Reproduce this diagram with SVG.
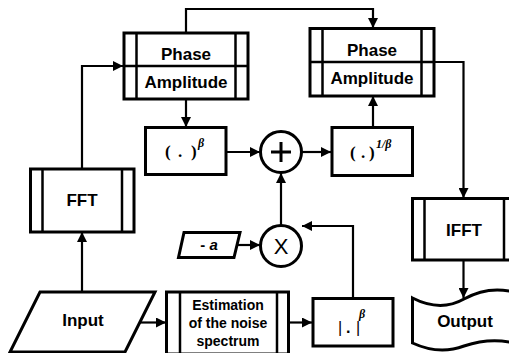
<svg xmlns="http://www.w3.org/2000/svg" width="509" height="353" viewBox="0 0 509 353">
<defs>
<marker id="ah" viewBox="0 0 10 10" refX="10" refY="5" markerWidth="10" markerHeight="10" markerUnits="userSpaceOnUse" orient="auto">
<path d="M0,0 L10,5 L0,10 Z" fill="#000"/>
</marker>
</defs>
<style>
.box{fill:#fff;stroke:#000;stroke-width:3}
.in{fill:none;stroke:#000;stroke-width:2.5}
.c{fill:none;stroke:#000;stroke-width:2.2}
.t{font-family:"Liberation Sans",Arial,sans-serif;font-weight:bold;font-size:17px;text-anchor:middle;fill:#000}
.s{font-family:"Liberation Sans",Arial,sans-serif;font-weight:bold;font-size:14px;text-anchor:middle;fill:#000}
.m{font-family:"Liberation Serif","Times New Roman",serif;font-weight:bold;font-size:17px;fill:#000}
.sup{font-family:"Liberation Serif","Times New Roman",serif;font-weight:bold;font-style:italic;font-size:12px;fill:#000}
</style>
<rect width="509" height="353" fill="#fff"/>
<g id="connectors">
<path class="c" d="M186,33 V9 H373 V28" marker-end="url(#ah)"/>
<path class="c" d="M82,169 V66 H123" marker-end="url(#ah)"/>
<path class="c" d="M186,99 V127" marker-end="url(#ah)"/>
<path class="c" d="M226,152 H260" marker-end="url(#ah)"/>
<path class="c" d="M302,152 H331" marker-end="url(#ah)"/>
<path class="c" d="M373,127 V96" marker-end="url(#ah)"/>
<path class="c" d="M434,62 H463.5 V198" marker-end="url(#ah)"/>
<path class="c" d="M463.5,260 V298" marker-end="url(#ah)"/>
<path class="c" d="M82,292 V232" marker-end="url(#ah)"/>
<path class="c" d="M140,322.5 H166" marker-end="url(#ah)"/>
<path class="c" d="M288,322.5 H312" marker-end="url(#ah)"/>
<path class="c" d="M353,298 V226 H302" marker-end="url(#ah)"/>
<path class="c" d="M281,225 V173" marker-end="url(#ah)"/>
<path class="c" d="M236,245 H260" marker-end="url(#ah)"/>
</g>
<g id="phase1">
<rect class="box" x="124" y="33" width="124" height="66"/>
<line class="in" x1="136.5" y1="33" x2="136.5" y2="99"/>
<line class="in" x1="235.5" y1="33" x2="235.5" y2="99"/>
<line class="in" x1="124" y1="66" x2="248" y2="66"/>
<text class="t" x="186" y="60">Phase</text>
<text class="t" x="186" y="88">Amplitude</text>
</g>
<g id="phase2">
<rect class="box" x="310" y="28.5" width="124" height="67.5"/>
<line class="in" x1="322.5" y1="28.5" x2="322.5" y2="96"/>
<line class="in" x1="421.5" y1="28.5" x2="421.5" y2="96"/>
<line class="in" x1="310" y1="62" x2="434" y2="62"/>
<text class="t" x="372" y="56">Phase</text>
<text class="t" x="372" y="84">Amplitude</text>
</g>
<g id="powbeta">
<rect class="box" x="145.5" y="127.5" width="80.5" height="47"/>
<text class="m" y="157"><tspan x="165">(</tspan><tspan x="178">.</tspan><tspan x="191">)</tspan></text>
<text class="sup" x="198" y="147">β</text>
</g>
<g id="plus">
<circle class="box" cx="281" cy="152" r="20.5" stroke-width="2.5"/>
<path d="M271,152 H291 M281,142 V162" stroke="#000" stroke-width="3" fill="none"/>
</g>
<g id="powinv">
<rect class="box" x="332" y="127.5" width="80.5" height="48"/>
<text class="m" y="158"><tspan x="350">(</tspan><tspan x="361">.</tspan><tspan x="369">)</tspan></text>
<text class="sup" x="376" y="148" font-style="normal">1/<tspan font-style="italic">β</tspan></text>
</g>
<g id="fft">
<rect class="box" x="30.5" y="169" width="103.5" height="63"/>
<line class="in" x1="42.5" y1="169" x2="42.5" y2="232"/>
<line class="in" x1="122" y1="169" x2="122" y2="232"/>
<text class="t" x="82" y="206">FFT</text>
</g>
<g id="ifft">
<rect class="box" x="412.5" y="198.5" width="103" height="61.5"/>
<line class="in" x1="424.5" y1="198.5" x2="424.5" y2="260"/>
<line class="in" x1="504" y1="198.5" x2="504" y2="260"/>
<text class="t" x="464" y="236">IFFT</text>
</g>
<g id="output">
<path class="box" d="M412.5,298 C432,308 448,308 464,299 C482,289 500,287 520,294 V345 C500,338 482,340 464,346 C448,352 432,352 412.5,343 Z"/>
<text class="t" x="465" y="327">Output</text>
</g>
<g id="input">
<path class="box" d="M40,292 H155 L125,352 H10 Z"/>
<text class="t" x="83" y="326">Input</text>
</g>
<g id="estimation">
<rect class="box" x="166.5" y="292" width="122" height="62"/>
<line class="in" x1="180" y1="292" x2="180" y2="354"/>
<line class="in" x1="277" y1="292" x2="277" y2="354"/>
<text class="s" x="228" y="310">Estimation</text>
<text class="s" x="228" y="328">of the noise</text>
<text class="s" x="228" y="346">spectrum</text>
</g>
<g id="absbeta">
<rect class="box" x="313" y="298.5" width="80" height="47.5"/>
<text y="333" font-family="'Liberation Sans',Arial,sans-serif" font-size="16" fill="#000"><tspan x="338">|</tspan><tspan x="346" font-weight="bold">.</tspan><tspan x="356">|</tspan></text>
<text class="sup" x="359" y="318">β</text>
</g>
<g id="times">
<circle class="box" cx="281" cy="246" r="20.5" stroke-width="2.5"/>
<text x="281" y="254" font-family="'Liberation Sans',Arial,sans-serif" font-size="22" text-anchor="middle" fill="#000">X</text>
</g>
<g id="minusa">
<path class="box" d="M184,232.5 H240 L234,257.5 H178.5 Z" stroke-width="2.5"/>
<text x="209" y="250" font-family="'Liberation Sans',Arial,sans-serif" font-weight="bold" font-size="15" text-anchor="middle" fill="#000">- <tspan font-style="italic">a</tspan></text>
</g>
</svg>
